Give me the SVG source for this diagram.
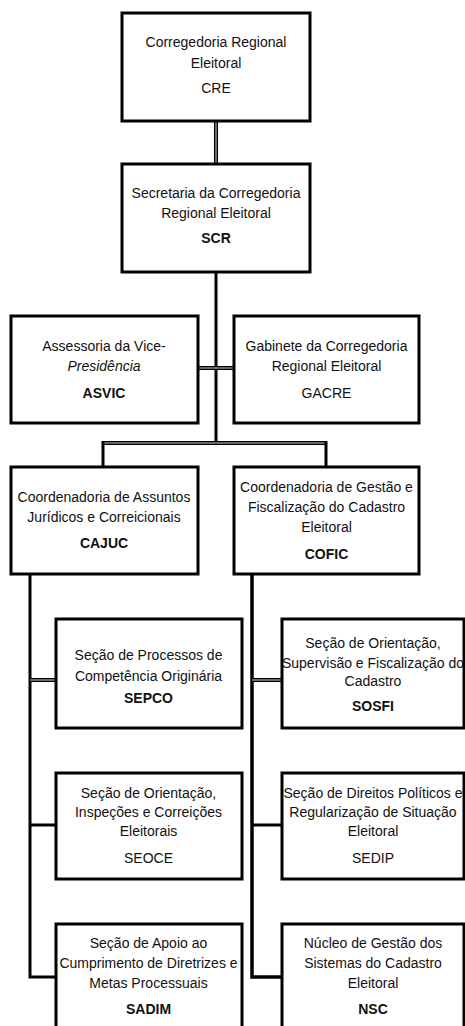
<svg xmlns="http://www.w3.org/2000/svg" width="465" height="1026" viewBox="0 0 465 1026">
<style>
.box{fill:#fff;stroke:#000;stroke-width:3}
.t{font-family:"Liberation Sans",Arial,sans-serif;font-size:14px;fill:#111;text-anchor:middle}
.b{font-weight:bold}
.i{font-style:italic}
.k{stroke:#000;stroke-width:3;fill:none}
.go{stroke:#000;stroke-width:4;fill:none}
.gi{stroke:#888;stroke-width:1.6;fill:none}
</style>
<rect width="465" height="1026" fill="#fff"/>
<g id="connectors">
<line class="go" x1="216" y1="122" x2="216" y2="163"/><line class="gi" x1="216" y1="122" x2="216" y2="163"/>
<line class="k" x1="216" y1="272" x2="216" y2="444"/>
<line class="go" x1="198" y1="368" x2="233" y2="368"/><line class="gi" x1="198" y1="368" x2="233" y2="368"/>
<line class="go" x1="102" y1="443" x2="327" y2="443"/><line class="gi" x1="102" y1="443" x2="327" y2="443"/>
<line class="k" x1="103" y1="441" x2="103" y2="466"/>
<line class="k" x1="326" y1="441" x2="326" y2="466"/>
<polyline class="k" points="30,574 30,977 55,977"/>
<polyline class="k" style="stroke-width:3.5" points="252,574 252,977 281,977"/>
<line class="go" x1="30" y1="680" x2="55" y2="680"/><line class="gi" x1="30" y1="680" x2="55" y2="680"/>
<line class="go" x1="252" y1="680" x2="281" y2="680"/><line class="gi" x1="252" y1="680" x2="281" y2="680"/>
<line class="k" x1="30" y1="825" x2="55" y2="825"/>
<line class="k" x1="252" y1="825" x2="281" y2="825"/>
</g>
<g id="CRE">
<rect class="box" x="122" y="13" width="188" height="108"/>
<text class="t" x="216" y="47">Corregedoria Regional</text>
<text class="t" x="216" y="68">Eleitoral</text>
<text class="t" x="216" y="93">CRE</text>
</g>
<g id="SCR">
<rect class="box" x="122" y="164" width="188" height="108"/>
<text class="t" x="216" y="198">Secretaria da Corregedoria</text>
<text class="t" x="216" y="218">Regional Eleitoral</text>
<text class="t b" x="216" y="243">SCR</text>
</g>
<g id="ASVIC">
<rect class="box" x="11" y="316" width="187" height="107"/>
<text class="t" x="104" y="351">Assessoria da Vice-</text>
<text class="t i" x="104" y="371">Presidência</text>
<text class="t b" x="104" y="398">ASVIC</text>
</g>
<g id="GACRE">
<rect class="box" x="234" y="316" width="185" height="107"/>
<text class="t" x="326.5" y="351">Gabinete da Corregedoria</text>
<text class="t" x="326.5" y="371">Regional Eleitoral</text>
<text class="t" x="326.5" y="398">GACRE</text>
</g>
<g id="CAJUC">
<rect class="box" x="11" y="467" width="187" height="107"/>
<text class="t" x="104" y="502">Coordenadoria de Assuntos</text>
<text class="t" x="104" y="522">Jurídicos e Correicionais</text>
<text class="t b" x="104" y="548">CAJUC</text>
</g>
<g id="COFIC">
<rect class="box" x="234" y="467" width="185" height="107"/>
<text class="t" x="326.5" y="492">Coordenadoria de Gestão e</text>
<text class="t" x="326.5" y="512">Fiscalização do Cadastro</text>
<text class="t" x="326.5" y="532">Eleitoral</text>
<text class="t b" x="326.5" y="559">COFIC</text>
</g>
<g id="SEPCO">
<rect class="box" x="56" y="619" width="186" height="109"/>
<text class="t" x="148.5" y="660">Seção de Processos de</text>
<text class="t" x="148.5" y="681">Competência Originária</text>
<text class="t b" x="148.5" y="703">SEPCO</text>
</g>
<g id="SOSFI">
<rect class="box" x="282" y="619" width="182" height="109"/>
<text class="t" x="373" y="648">Seção de Orientação,</text>
<text class="t" x="373" y="668">Supervisão e Fiscalização do</text>
<text class="t" x="373" y="686">Cadastro</text>
<text class="t b" x="373" y="711">SOSFI</text>
</g>
<g id="SEOCE">
<rect class="box" x="56" y="773" width="186" height="106"/>
<text class="t" x="148.5" y="798">Seção de Orientação,</text>
<text class="t" x="148.5" y="817">Inspeções e Correições</text>
<text class="t" x="148.5" y="836">Eleitorais</text>
<text class="t" x="148.5" y="863">SEOCE</text>
</g>
<g id="SEDIP">
<rect class="box" x="282" y="773" width="182" height="106"/>
<text class="t" x="373" y="798">Seção de Direitos Políticos e</text>
<text class="t" x="373" y="817">Regularização de Situação</text>
<text class="t" x="373" y="836">Eleitoral</text>
<text class="t" x="373" y="863">SEDIP</text>
</g>
<g id="SADIM">
<rect class="box" x="56" y="924" width="186" height="110"/>
<text class="t" x="148.5" y="948">Seção de Apoio ao</text>
<text class="t" x="148.5" y="968">Cumprimento de Diretrizes e</text>
<text class="t" x="148.5" y="988">Metas Processuais</text>
<text class="t b" x="148.5" y="1014">SADIM</text>
</g>
<g id="NSC">
<rect class="box" x="282" y="924" width="182" height="110"/>
<text class="t" x="373" y="948">Núcleo de Gestão dos</text>
<text class="t" x="373" y="968">Sistemas do Cadastro</text>
<text class="t" x="373" y="988">Eleitoral</text>
<text class="t b" x="373" y="1014">NSC</text>
</g>
</svg>
